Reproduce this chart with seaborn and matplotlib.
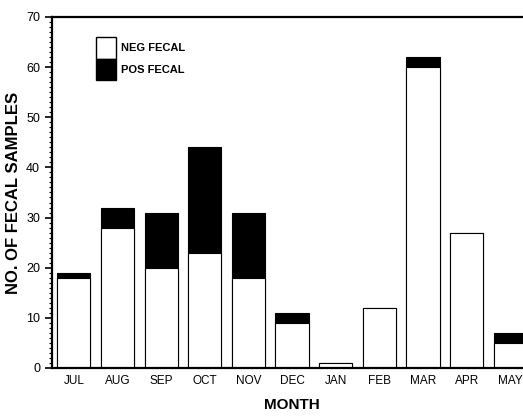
import numpy as np
import pandas as pd
import matplotlib
matplotlib.use("Agg")
import matplotlib.pyplot as plt
import seaborn as sns
from matplotlib.patches import Patch
from matplotlib.ticker import MultipleLocator

months = ["JUL", "AUG", "SEP", "OCT", "NOV", "DEC", "JAN", "FEB", "MAR", "APR", "MAY"]
neg_fecal = [18, 28, 20, 23, 18, 9, 1, 12, 60, 27, 5]
pos_fecal = [1, 4, 11, 21, 13, 2, 0, 0, 2, 0, 2]

df = pd.DataFrame({"month": months, "neg": neg_fecal, "pos": pos_fecal})
df["total"] = df["neg"] + df["pos"]

sns.set_style("ticks")
plt.rcParams["font.family"] = ["Liberation Sans", "DejaVu Sans"]
plt.rcParams.update({"text.color": "black", "axes.labelcolor": "black",
                     "xtick.color": "black", "ytick.color": "black"})

fig = plt.figure(figsize=(5.23, 4.16), dpi=100)
ax = fig.add_axes([0.0994, 0.1154, 0.918, 0.8438])

# totals in black, negative part drawn over in white
sns.barplot(data=df, x="month", y="total", color="black", width=0.76,
            edgecolor="black", linewidth=0.8, saturation=1, ax=ax)
sns.barplot(data=df, x="month", y="neg", color="white", width=0.76,
            edgecolor="black", linewidth=0.8, saturation=1, ax=ax)

ax.set_xlim(-0.5, 10.5)
ax.set_ylim(0, 70)
ax.yaxis.set_major_locator(MultipleLocator(10))
ax.yaxis.set_minor_locator(MultipleLocator(1))
ax.tick_params(axis="y", which="major", length=5, width=1.2, labelsize=9)
ax.tick_params(axis="y", which="minor", length=2, width=0.8)
ax.tick_params(axis="x", length=0, labelsize=8.5, pad=5)

for s in ["left", "bottom", "top"]:
    ax.spines[s].set_linewidth(1.6)
    ax.spines[s].set_color("black")
ax.spines["right"].set_visible(False)

ax.set_xlabel("MONTH", fontsize=11, fontweight="bold", labelpad=8)
ax.set_ylabel("NO. OF FECAL SAMPLES", fontsize=12, fontweight="bold", labelpad=4)

handles = [Patch(facecolor="white", edgecolor="black", label="NEG FECAL"),
           Patch(facecolor="black", edgecolor="black", label="POS FECAL")]
leg = ax.legend(handles=handles, loc="upper left", bbox_to_anchor=(0.075, 0.965),
                frameon=False, handlelength=1.8, handleheight=2.6,
                handletextpad=0.45, labelspacing=0.0, borderpad=0.2,
                prop={"weight": "bold", "size": 8})

fig.savefig("out.png", dpi=100)
